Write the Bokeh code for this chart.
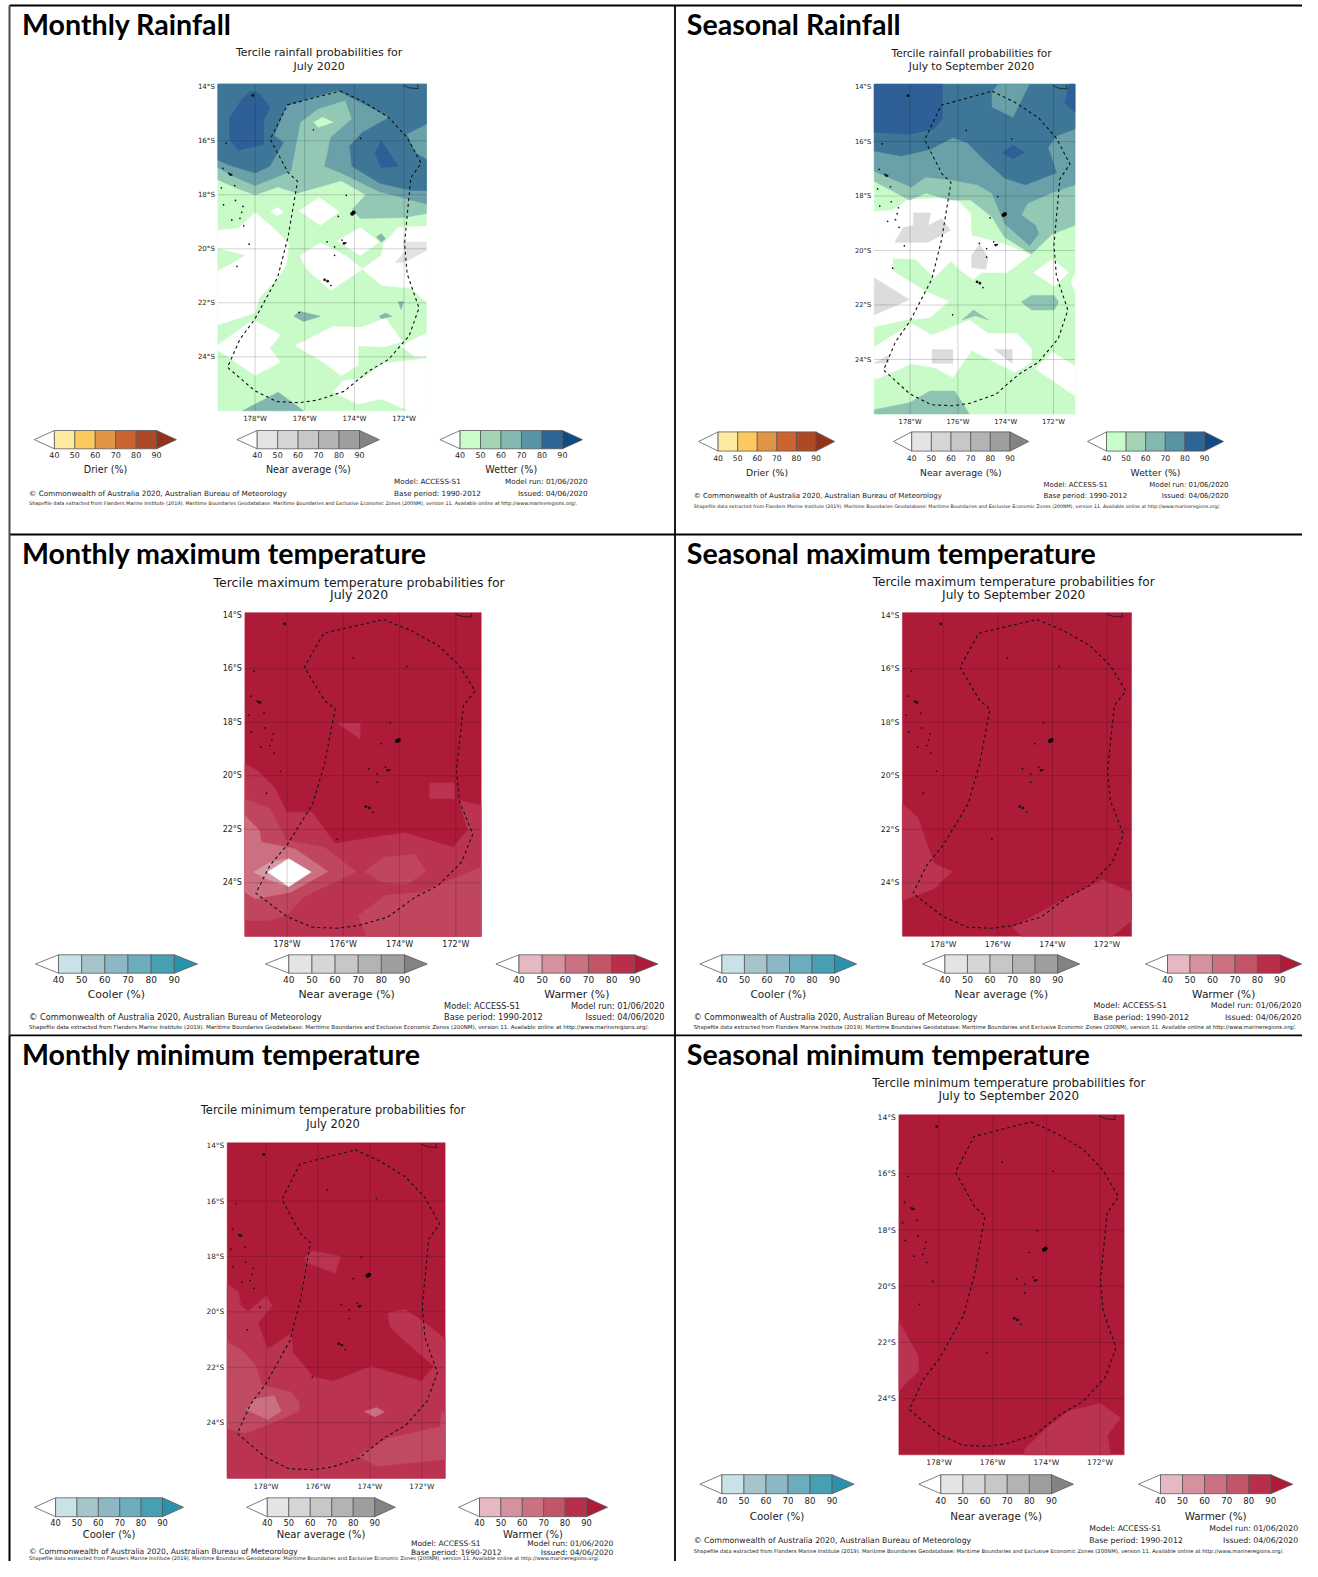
from bokeh.plotting import figure
from bokeh.models import Range1d
from bokeh.core.properties import value
from bokeh.embed import file_html
from bokeh.resources import INLINE

# ---------- map domain ----------
W, E, N, S = -179.5, -171.1, -13.9, -26.0
lon_ticks = [-178, -176, -174, -172]
lat_ticks = [-14, -16, -18, -20, -22, -24]
levels = [40, 50, 60, 70, 80, 90]

# ---------- colour scales (below 40, 40-50 ... 80-90, above 90) ----------
drier = ["#ffffff", "#fde9a0", "#fcc860", "#e09545", "#cc6430", "#ad4a25", "#93331a"]
near = ["#ffffff", "#e4e4e4", "#d6d6d6", "#c7c7c7", "#b3b3b3", "#9e9e9e", "#838383"]
wetter = ["#ffffff", "#c8fdcb", "#a3d4b3", "#83b8b0", "#5a93a3", "#2f6496", "#0f4a85"]
cooler = ["#ffffff", "#c9e2e8", "#a6c5ca", "#8bb8c4", "#6cacbc", "#479fb3", "#2a92ad"]
warmer = ["#ffffff", "#e5b8c2", "#d6919e", "#cb7181", "#c25568", "#b92f4a", "#ae1b38"]

# ---------- common geography ----------
eez = [(-174.57,-14.155),(-173.60,-14.57),(-172.63,-15.13),(-171.88,-15.88),(-171.31,-16.83),(-171.73,-17.37),
       (-171.88,-18.80),(-171.98,-19.80),(-171.88,-20.92),(-171.40,-22.19),(-171.80,-23.23),(-172.63,-24.10),
       (-173.45,-24.54),(-174.42,-25.28),(-175.47,-25.60),(-176.22,-25.70),(-177.12,-25.66),(-178.01,-25.26),
       (-179.11,-24.39),(-178.61,-23.35),(-178.01,-22.60),(-177.09,-21.05),(-176.67,-19.55),(-176.29,-17.50),
       (-176.67,-17.18),(-177.39,-15.94),(-176.70,-14.67),(-174.57,-14.155)]
coast = [(-172.03,-13.94),(-171.80,-14.04),(-171.43,-14.07),(-171.46,-13.92)]
islands_small = [(-178.09,-14.32),(-175.65,-15.59),(-173.75,-15.91),(-179.17,-16.09),(-179.29,-17.02),(-179.06,-17.21),
                 (-178.94,-17.26),(-178.82,-17.66),(-179.36,-17.74),(-178.79,-18.21),(-179.27,-18.37),(-178.49,-18.43),
                 (-178.54,-18.65),(-178.94,-18.93),(-178.61,-18.87),(-178.46,-19.15),(-178.24,-19.83),(-178.73,-20.65),
                 (-174.33,-18.02),(-174.65,-18.80),(-175.10,-19.74),(-174.50,-19.68),(-174.35,-19.78),(-174.80,-19.93),
                 (-174.80,-20.24),(-174.95,-21.36),(-176.22,-22.36)]
islands_mid = [(-178.09,-14.32),(-175.20,-21.15),(-175.08,-21.20),(-174.42,-19.80),(-178.99,-17.25)]
islands_big = [(-174.03,-18.66),(-174.09,-18.70)]

# ---------- Monthly rainfall ----------
r1_l2 = [(W,N),(E,N),(E,-18.69),(-171.98,-18.84),(-173.76,-18.88),(-174.10,-18.56),(-173.54,-18.0),(-174.53,-17.48),
         (-176.31,-17.94),(-177.07,-17.71),(-178,-18.0),(-178.76,-17.75),(W,-17.44)]
r1_l3 = [(W,N),(E,N),(E,-18.34),(-173.0,-17.88),(-174.53,-17.19),(-175.2,-16.94),(-174.95,-15.88),(-174.10,-15.19),
         (-174.36,-14.5),(-175.46,-14.81),(-176.19,-15.31),(-176.39,-16.31),(-176.56,-17.13),(-178,-17.66),(-178.93,-17.29),(W,-17.0)]
r1_l4 = [(W,N),(E,N),(E,-15.38),(-171.9,-15.75),(-171.56,-16.44),(E,-16.69),(E,-17.84),(-171.73,-17.84),(-173,-17.56),
         (-174.1,-16.94),(-174.19,-16.19),(-173.68,-15.69),(-172.58,-15.13),(-174.69,-14.13),(-176.73,-14.69),(-177.24,-15.81),
         (-176.86,-16.06),(-177.41,-16.94),(-178,-17.19),(-179.02,-16.91),(W,-16.71)]
r1_l5a = [(-178.17,-14.16),(-177.83,-14.25),(-177.41,-14.75),(-177.66,-15.25),(-177.66,-16.13),(-178.68,-16.35),(-179.02,-15.94),(-179.02,-15.13),(-178.51,-14.44)]
r1_l5b = [(-172.92,-16.0),(-172.24,-16.94),(-172.92,-17.0),(-173.17,-16.44)]
r1_spot = [(-175.63,-15.31),(-175.29,-15.13),(-174.86,-15.31),(-175.46,-15.5)]
r1_w = [
    [(W,-19.31),(-178.68,-19.25),(-178,-18.66),(-177.24,-19.25),(-176.64,-19.81),(-176.73,-20.56),(-177.07,-21.06),(-177.83,-21.81),(-178,-22.38),(W,-22.81)],
    [(W,-23.56),(-178.08,-22.63),(-176.98,-23.19),(-177.41,-23.69),(-176.98,-24.19),(-178,-24.69),(W,-23.75)],
    [(-177.37,-18.63),(-177.1,-18.46),(-176.86,-18.63),(-177.1,-18.78)],
    [(-176.22,-18.59),(-175.42,-18.1),(-174.61,-18.63),(-175.37,-19.13)],
    [(-174.69,-19.71),(-173.76,-19.21),(-173,-19.75),(-173.76,-20.25)],
    [(-176.19,-20.25),(-175.37,-19.78),(-174.36,-20.25),(-173.68,-20.75),(-174.95,-21.54),(-175.63,-21.0),(-175.97,-20.69)],
    [(E,-19.16),(-172.24,-19.21),(-172.83,-19.81),(-172.92,-20.25),(-173.68,-20.75),(-172.92,-21.35),(-171.73,-21.46),(E,-21.98)],
    [(-176.39,-23.59),(-174.86,-22.88),(-173.68,-22.91),(-172.75,-22.56),(-172.07,-23.44),(-172.83,-23.63),(-173.85,-23.59),(-173.85,-24.31),(-174.53,-24.69),(-175.37,-24.13)],
    [(-172.15,-23.59),(E,-23.13),(E,-24.0),(-171.56,-24.0)],
    [(-174.86,-25.31),(-174.44,-24.88),(-173.68,-24.81),(-172.83,-24.25),(E,-24.06),(E,S),(-171.81,S),(-172.92,-25.56),(-173.85,-25.75)],
]
r1_sliver = [(W,-20.0),(-178.42,-20.25),(W,-20.81)]
r1_grey = [(-172.02,-19.75),(E,-19.75),(E,-20.06),(-171.98,-20.5),(-172.36,-20.5),(-171.98,-20.13)]
r1_patch = [
    [(-176.44,-22.5),(-176.22,-22.31),(-175.37,-22.5),(-176.05,-22.69)],
    [(-173,-22.5),(-172.75,-22.38),(-172.49,-22.5),(-172.92,-22.59)],
    [(-172.24,-21.96),(-172.02,-21.96),(-172.12,-22.25)],
    [(-172.92,-19.44),(-172.75,-19.63),(-172.92,-19.75),(-173.12,-19.56)],
    [(-178.51,S),(-177.07,-25.31),(-176.05,S)],
]

# ---------- Seasonal rainfall ----------
r2_l2 = [(W,N),(E,N),(E,-19.08),(-172.05,-19.39),(-172.92,-20.13),(-174.05,-19.51),(-174.57,-18.77),(-175.47,-18.15),
         (-176.30,-18.15),(-177.34,-17.90),(-178.03,-18.15),(W,-17.46)]
r2_l3 = [(W,N),(E,N),(E,-17.59),(-171.97,-17.84),(-173.09,-18.27),(-173.35,-18.70),(-172.75,-19.08),(-172.62,-19.39),(-173.0,-19.82),
         (-174.05,-19.01),(-174.57,-17.90),(-175.17,-17.59),(-176.30,-17.40),(-177.34,-17.30),(-177.95,-17.67),(W,-17.09)]
r2_l4 = [(W,N),(E,N),(E,-15.54),(-171.88,-15.79),(-172.23,-16.22),(-171.88,-17.15),(-173.18,-17.59),(-174.05,-17.34),(-174.91,-16.66),
         (-175.61,-16.04),(-176.21,-15.85),(-177.17,-16.29),(-178.38,-16.53),(W,-16.35)]
r2_top = [(-174.57,-14.18),(-174.31,N),(-173.01,N),(-173.70,-15.11),(-174.57,-14.73)]
r2_l5 = [
    [(W,N),(-176.65,N),(-176.65,-15.17),(-177.0,-15.54),(-178.03,-15.73),(W,-15.66)],
    [(-171.53,-14.61),(-171.36,N),(E,N),(E,-14.92)],
    [(-174.13,-16.41),(-173.70,-16.14),(-173.21,-16.41),(-173.70,-16.63)],
]
r2_w = [
    [(W,-18.58),(-178.73,-18.52),(-178.07,-18.12),(-176.47,-18.08),(-175.95,-18.21),(-175.47,-18.64),(-175.43,-19.45),(-174.05,-19.76),
     (-172.95,-20.16),(-173.96,-20.81),(-175.0,-20.81),(-175.35,-21.06),(-175.87,-20.75),(-176.30,-20.38),(-176.99,-21.0),(-177.77,-20.32),
     (-178.73,-20.28),(-178.73,-20.75),(W,-20.90)],
    [(W,-20.90),(-178.73,-20.75),(-177.34,-21.50),(-176.39,-21.87),(-177.17,-22.46),(-178.21,-22.55),(W,-22.80)],
    [(W,-23.54),(-177.95,-22.68),(-177.08,-23.11),(-175.52,-22.55),(-174.74,-23.05),(-173.53,-23.05),(-172.92,-23.61),(-172.92,-24.10),
     (-173.61,-24.47),(-175.43,-23.67),(-176.21,-24.66),(-176.99,-24.29),(-177.95,-24.16),(-179.25,-24.66),(W,-24.72)],
    [(-172.75,-24.35),(-172.05,-23.73),(E,-24.23),(E,-25.34)],
    [(-172.83,-20.81),(-172.05,-20.32),(-171.36,-20.81),(-171.97,-21.31)],
    [(E,-20.88),(-171.27,-21.12),(E,-21.50)],
]
r2_grey = [
    [(-177.86,-18.62),(-177.13,-18.62),(-177.25,-19.08),(-176.68,-18.83),(-176.30,-19.26),(-177.25,-19.70),(-178.64,-19.70),(-178.29,-19.16),(-177.86,-19.08)],
    [(-175.43,-20.19),(-175.09,-19.76),(-174.74,-20.26),(-174.83,-20.69),(-175.43,-20.63)],
    [(W,-21.0),(-178.03,-21.81),(W,-22.36)],
    [(-177.08,-23.63),(-176.21,-23.63),(-176.21,-24.14),(-177.08,-24.14)],
    [(-174.48,-23.63),(-173.73,-23.63),(-173.73,-24.14)],
    [(W,-24.13),(-178.9,-23.85),(-178.9,-24.14)],
]
r2_patch = [
    [(-173.35,-21.89),(-172.92,-21.65),(-171.97,-21.65),(-171.79,-21.89),(-171.97,-22.18),(-172.92,-22.18)],
    [(-175.82,-22.55),(-175.35,-22.18),(-174.71,-22.55),(-175.26,-22.39)],
    [(W,-25.84),(-178.03,-25.59),(-177.17,-25.16),(-176.13,-25.16),(-175.52,S),(W,S)],
]

# ---------- Monthly maximum temperature ----------
t1_80 = [
    [(W,-19.55),(-179.06,-19.80),(-178.46,-20.42),(-178.01,-21.36),(-177.12,-21.36),(-176.29,-22.54),(-175.32,-22.36),(-173.83,-22.13),
     (-172.10,-22.67),(-171.58,-22.04),(-171.88,-20.92),(E,-21.11),(E,S),(W,S)],
    [(-176.22,-18.03),(-175.40,-18.03),(-175.40,-18.62)],
    [(-172.93,-20.27),(-172.06,-20.27),(-172.06,-20.86),(-172.93,-20.86)],
]
t1_70 = [
    [(W,-20.86),(-178.61,-21.23),(-178.01,-22.42),(-176.67,-22.67),(-175.55,-23.58),(-177.42,-24.54),(-178.01,-25.22),(-178.69,-25.41),(W,-25.41)],
    [(-175.25,-23.58),(-174.57,-23.04),(-173.45,-22.94),(-173.08,-23.58),(-173.75,-24.06),(-174.65,-23.98)],
    [(-175.47,-25.22),(-174.50,-24.47),(-173.23,-24.35),(E,-23.41),(E,S),(-175.17,S)],
]
t1_60 = [[(W,-21.48),(-178.99,-22.04),(-178.91,-22.48),(-177.72,-22.73),(-176.55,-23.58),(-177.87,-24.35),(-179.14,-24.60),(W,-24.35)]]
t1_50 = [[(-179.18,-23.60),(-178.61,-23.23),(-178.01,-23.10),(-177.15,-23.60),(-177.94,-24.14),(-178.73,-23.85)]]
t1_w = [[(-178.69,-23.60),(-177.94,-23.10),(-177.15,-23.60),(-177.94,-24.14)]]

# ---------- Seasonal maximum temperature ----------
t2_80 = [
    [(W,-21.05),(-178.94,-21.55),(-178.64,-22.42),(-178.33,-23.29),(-177.68,-23.58),(-178.33,-24.22),(W,-24.66)],
    [(-175.45,-25.66),(-173.55,-24.60),(-172.18,-23.89),(E,-24.35),(E,-25.41),(-171.80,S),(-175.14,S)],
]

# ---------- Monthly minimum temperature ----------
t3_80 = [
    [(W,-18.98),(-179.07,-19.29),(-178.96,-19.79),(-178.70,-19.98),(-177.98,-19.42),(-177.77,-19.79),(-178.31,-20.41),(-177.94,-21.34),
     (-177.04,-20.78),(-176.96,-21.47),(-176.20,-22.34),(-175.42,-22.50),(-173.96,-21.96),(-172.02,-22.50),(-171.53,-21.96),(-172.83,-20.91),
     (-173.23,-20.53),(-173.31,-20.04),(-172.66,-19.91),(-171.85,-20.41),(E,-20.97),(E,S),(W,S)],
    [(-176.52,-18.05),(-176.23,-17.80),(-175.13,-17.99),(-175.34,-18.61),(-176.39,-18.24)],
]
t3_70 = [
    [(W,-21.09),(-178.91,-21.40),(-178.42,-21.90),(-178.15,-22.65),(-177.04,-22.89),(-176.72,-23.27),(-176.72,-23.58),(-177.61,-23.95),(-178.83,-24.39),(W,-24.20)],
    [(-174.45,-25.19),(-173.31,-24.57),(-171.29,-24.14),(-171.24,-23.64),(E,-23.64),(E,-25.32),(-173.72,-25.57)],
]
t3_60 = [
    [(-178.78,-23.52),(-178.42,-23.14),(-177.69,-23.02),(-177.42,-23.58),(-177.94,-23.89)],
    [(-174.21,-23.60),(-173.75,-23.45),(-173.44,-23.61),(-173.80,-23.79)],
]

# ---------- Seasonal minimum temperature ----------
t4_80 = [
    [(W,-21.26),(-178.77,-22.48),(-178.77,-23.03),(W,-23.71)],
    [(-174.81,S),(-174.81,-25.79),(-174.01,-25.06),(-173.16,-24.44),(-172.0,-24.17),(-171.23,-24.69),(-171.72,-25.30),(-171.61,S)],
]

# ---------- rainfall / temperature fills ----------
G1, G2, G3, G4, G5 = "#c9fbc9", "#92c8b4", "#6aa0a8", "#3e7698", "#2e5f97"
T90, T80, T70, T60, T50 = "#ae1b38", "#ba3350", "#c0465e", "#cc6f80", "#d899a6"
GREY = "#e3e3e3"
full = [[(W,N),(E,N),(E,S),(W,S)]]

r1_layers = [(G1, full), ("#ffffff", r1_w), (G1, [r1_sliver]), (GREY, [r1_grey]), ("#82b6af", r1_patch), (G2, [r1_l2]),
             (G3, [r1_l3]), (G4, [r1_l4]), (G5, [r1_l5a, r1_l5b]), (G1, [r1_spot])]
r2_layers = [(G1, full), ("#ffffff", r2_w), ("#dcdcdc", r2_grey), ("#8ec3b3", r2_patch), (G2, [r2_l2]), (G3, [r2_l3]),
             (G4, [r2_l4]), (G3, [r2_top]), (G5, r2_l5)]
t1_layers = [(T90, full), (T80, t1_80), (T70, t1_70), (T60, t1_60), (T50, t1_50), ("#ffffff", t1_w)]
t2_layers = [(T90, full), (T80, t2_80)]
t3_layers = [(T90, full), (T80, t3_80), ("#c04a62", t3_70), (T60, t3_60)]
t4_layers = [(T90, full), (T80, t4_80)]

S_DATA = "Shapefile data extracted from Flanders Marine Institute (2019). Maritime Boundaries Geodatabase: Maritime Boundaries and Exclusive Economic Zones (200NM), version 11. Available online at http://www.marineregions.org/."
COPY = "\u00a9 Commonwealth of Australia 2020, Australian Bureau of Meteorology"
L_JULY, L_SEAS = "July 2020", "July to September 2020"

panels = [
 dict(name="m1", head="Monthly Rainfall", hx=21.5, hy=23.5, t1="Tercile rainfall probabilities for", t2=L_JULY, tx=318.6, ty=(52.4,65.6),
      x178=254.6, x172=403.6, y16=140.3, y24=356.3, fs=0.882, layers=r1_layers,
      bars=[("Drier (%)", drier, 33.7,53.9,156.1,175.9),("Near average (%)", near, 236.5,256.7,359,378.8),("Wetter (%)", wetter, 439.4,459.6,561.9,582)],
      by=(430,448.3,454,469), mx=393.5, my=(481,492.6), rx=587, cx=28.6, cy=492.6, sy=502.7),
 dict(name="m2", head="Seasonal Rainfall", hx=686.3, hy=23.5, t1="Tercile rainfall probabilities for", t2=L_SEAS, tx=971, ty=(52.4,65.9),
      x178=909.6, x172=1053, y16=141, y24=359, fs=0.848, layers=r2_layers,
      bars=[("Drier (%)", drier, 698.1,717.6,815.5,834.1),("Near average (%)", near, 893,911.2,1009.5,1028.2),("Wetter (%)", wetter, 1087,1106,1204,1223)],
      by=(431.4,450.6,457,472), mx=1043, my=(484,495.6), rx=1228, cx=693.2, cy=495.6, sy=505.7),
 dict(name="m3", head="Monthly maximum temperature", hx=21.5, hy=552.3, t1="Tercile maximum temperature probabilities for", t2=L_JULY, tx=358.6, ty=(581.7,594.3),
      x178=286.6, x172=455.4, y16=668.3, y24=882.3, fs=1.0, layers=t1_layers,
      bars=[("Cooler (%)", cooler, 35,58,173.8,197),("Near average (%)", near, 265,288.3,404,426.8),("Warmer (%)", warmer, 495.4,518.5,634.3,657.4)],
      by=(954.3,972.7,978.7,993.7), mx=443.6, my=(1005.3,1016.7), rx=664, cx=28.6, cy=1016.7, sy=1026.3),
 dict(name="m4", head="Seasonal maximum temperature", hx=686.3, hy=552.3, t1="Tercile maximum temperature probabilities for", t2=L_SEAS, tx=1013.2, ty=(581.7,594.3),
      x178=942.8, x172=1106.5, y16=668.3, y24=882.3, fs=0.97, layers=t2_layers,
      bars=[("Cooler (%)", cooler, 699.4,721.4,834.1,856.1),("Near average (%)", near, 922,944.4,1057.2,1079.2),("Warmer (%)", warmer, 1145,1167,1279.4,1301)],
      by=(954.3,972.7,978.7,993.7), mx=1093, my=(1005.3,1016.7), rx=1301, cx=693.2, cy=1016.7, sy=1026.3),
 dict(name="m5", head="Monthly minimum temperature", hx=21.5, hy=1053.5, t1="Tercile minimum temperature probabilities for", t2=L_JULY, tx=332.5, ty=(1109.9,1123.3),
      x178=265.6, x172=421.3, y16=1200.5, y24=1422.2, fs=0.92, layers=t3_layers,
      bars=[("Cooler (%)", cooler, 34,55.1,162,183),("Near average (%)", near, 246.2,266.8,374.2,394.8),("Warmer (%)", warmer, 458,479,586,607)],
      by=(1497.3,1516.2,1522.4,1533.5), mx=410.4, my=(1542.5,1551.5), rx=612.8, cx=28.6, cy=1551, sy=1557.3),
 dict(name="m6", head="Seasonal minimum temperature", hx=686.3, hy=1053.5, t1="Tercile minimum temperature probabilities for", t2=L_SEAS, tx=1008.3, ty=(1082,1095.4),
      x178=938.6, x172=1099.5, y16=1173.3, y24=1398.1, fs=0.95, layers=t4_layers,
      bars=[("Cooler (%)", cooler, 699.4,721.4,831.6,853.6),("Near average (%)", near, 918.3,940.3,1051,1073),("Warmer (%)", warmer, 1138,1160,1270.3,1292.2)],
      by=(1474.2,1493.2,1500,1515.9), mx=1088.7, my=(1528,1540), rx=1297.6, cx=693.2, cy=1540, sy=1550.3),
]

X0, X1, Y0, Y1 = 0, 1302, 0, 1561
p = figure(width=X1-X0, height=Y1-Y0, x_range=Range1d(X0, X1), y_range=Range1d(Y1, Y0),
           output_backend="svg", toolbar_location=None, x_axis_location=None, y_axis_location=None,
           min_border=0, background_fill_color="#ffffff", border_fill_color="#ffffff")
p.grid.visible = False
p.outline_line_color = None


def put(x, y, s, size, align="left", color="#222222", font="DejaVu Sans", style="normal", **kw):
    p.text(x=[x], y=[y], text=[s], text_font=value(font), text_font_size=value(f"{size:.2f}px"), text_font_style=style,
           text_align=align, text_baseline="middle", text_color=color, **kw)


for q in panels:
    nm, fs = q["name"], q["fs"]
    bx = (q["x172"] - q["x178"]) / 6.0
    by_ = (q["y24"] - q["y16"]) / 8.0
    p.extra_x_ranges[nm] = Range1d(-178 + (X0 - q["x178"]) / bx, -178 + (X1 - q["x178"]) / bx)
    p.extra_y_ranges[nm] = Range1d(-16 - (Y1 - q["y16"]) / by_, -16 - (Y0 - q["y16"]) / by_)
    rng = dict(x_range_name=nm, y_range_name=nm)

    for color, polys in q["layers"]:
        for poly in polys:
            p.patch([c[0] for c in poly], [c[1] for c in poly], fill_color=color, line_color=color, line_width=0.5, **rng)

    # graticule
    p.segment(x0=lon_ticks, y0=[S]*4, x1=lon_ticks, y1=[N]*4, line_color="#000000", line_alpha=0.17, line_width=1, **rng)
    p.segment(x0=[W]*5, y0=lat_ticks[1:], x1=[E]*5, y1=lat_ticks[1:], line_color="#000000", line_alpha=0.17, line_width=1, **rng)

    # geography
    p.line([c[0] for c in eez], [c[1] for c in eez], line_color="#111111", line_width=1.1, line_dash="3 3", **rng)
    p.line([c[0] for c in coast], [c[1] for c in coast], line_color="#111111", line_width=0.7, **rng)
    p.scatter([c[0] for c in islands_small], [c[1] for c in islands_small], size=1.7, color="#111111", line_width=0, **rng)
    p.scatter([c[0] for c in islands_mid], [c[1] for c in islands_mid], size=2.8, color="#111111", line_width=0, **rng)
    p.scatter([c[0] for c in islands_big], [c[1] for c in islands_big], size=4, color="#000000", line_width=0, **rng)

    # tick labels
    for la in lat_ticks:
        put(W, la, f"{abs(la)}\u00b0S", 8*fs, align="right", x_offset=-3, **rng)
    for lo in lon_ticks:
        put(lo, S, f"{abs(lo)}\u00b0W", 8*fs, align="center", y_offset=8, **rng)

    # headings
    put(q["hx"], q["hy"], q["head"], 28.6, font="Lato", style="bold", color="#000000")
    put(q["tx"], q["ty"][0], q["t1"], 12.5*fs, align="center", color="#1a1a1a")
    put(q["tx"], q["ty"][1], q["t2"], 12.5*fs, align="center", color="#1a1a1a")

    # colour bars
    ytop, ybot, ytick, ycap = q["by"]
    for cap, cols, tipl, x40, x90, tipr in q["bars"]:
        step = (x90 - x40) / (levels[-1] - levels[0])
        xs = [x40 + (v - levels[0]) * step for v in levels]
        ymid = (ytop + ybot) / 2
        edge = dict(line_color="#555555", line_width=0.9, line_alpha=0.85)
        p.patch([x40, tipl, x40], [ytop, ymid, ybot], fill_color=cols[0], **edge)
        p.quad(left=xs[:-1], right=xs[1:], top=[ytop]*5, bottom=[ybot]*5, fill_color=cols[1:6], **edge)
        p.patch([x90, tipr, x90], [ytop, ymid, ybot], fill_color=cols[6], **edge)
        for v, xv in zip(levels, xs):
            put(xv, ytick, str(v), 9*fs, align="center")
        put((x40 + x90) / 2 - 0.0, ycap, cap, 10.9*fs, align="center")

    # footers
    put(q["mx"], q["my"][0], "Model: ACCESS-S1", 8.2*fs)
    put(q["mx"], q["my"][1], "Base period: 1990-2012", 8.2*fs)
    put(q["rx"], q["my"][0], "Model run: 01/06/2020", 8.2*fs, align="right")
    put(q["rx"], q["my"][1], "Issued: 04/06/2020", 8.2*fs, align="right")
    put(q["cx"], q["cy"], COPY, 8.25*fs)
    put(q["cx"], q["sy"], S_DATA, 5.53*fs)

# frame rules of the composite page
p.segment(x0=[9, 9, 9, 674.5], y0=[5, 534, 1034.8, 5], x1=[X1, X1, X1, 674.5], y1=[5, 534, 1034.8, Y1], line_color="#000000", line_width=1.8)
p.segment(x0=[9, 9], y0=[5, 1035], x1=[9, 9], y1=[1035, Y1], line_color=["#4a4a4a", "#000000"], line_width=2)

open("out.html", "w").write(file_html(p, INLINE))
